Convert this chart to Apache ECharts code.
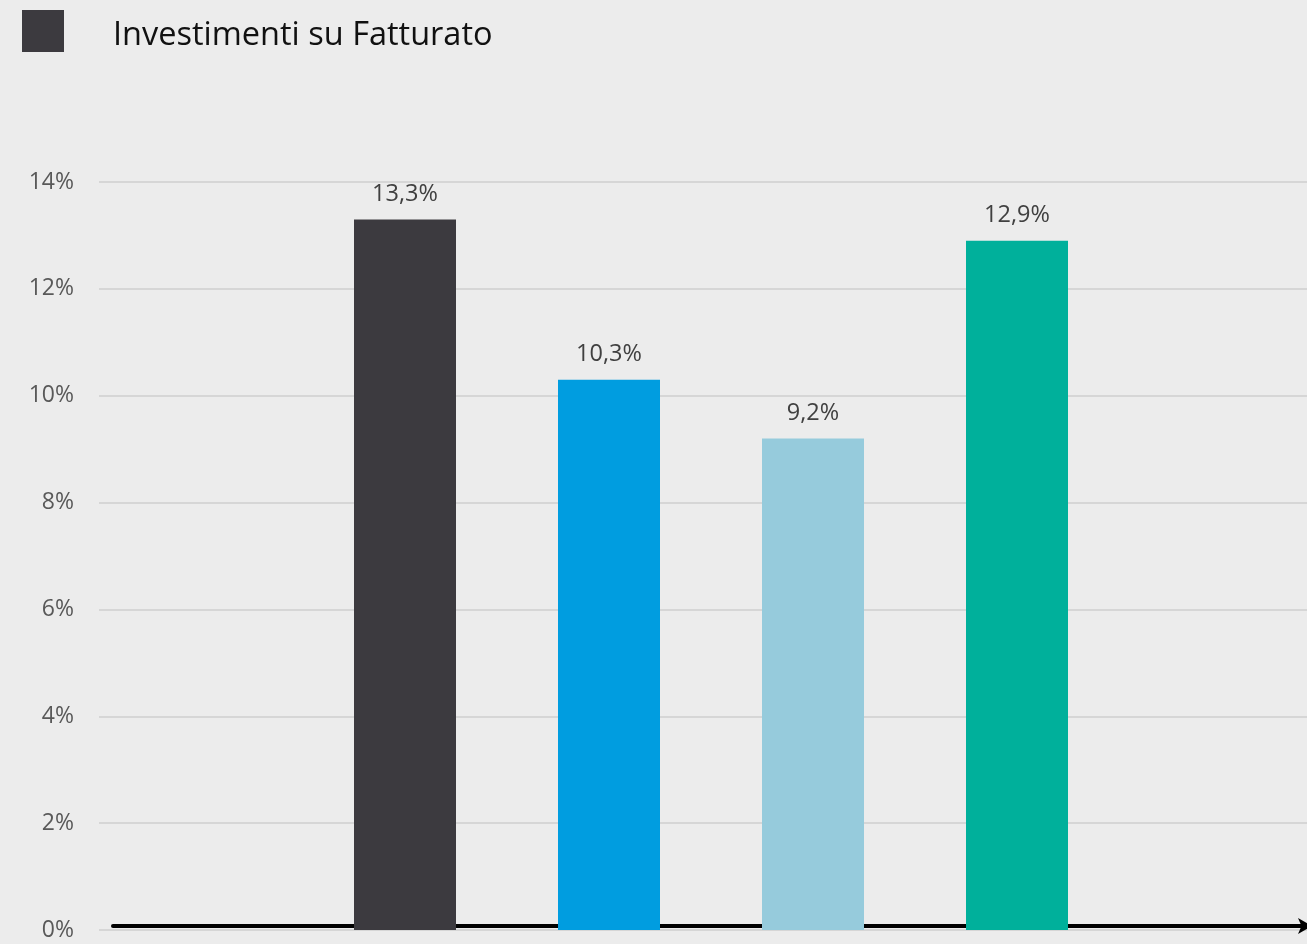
<!DOCTYPE html>
<html>
<head>
<meta charset="utf-8">
<script src="https://cdn.jsdelivr.net/npm/echarts@6/dist/echarts.min.js"></script>
<style>
html,body{margin:0;padding:0;background:#ececec;overflow:hidden;}
#c{width:1323px;height:944px;}
</style>
</head>
<body>
<div id="c"></div>
<script>
const seriesName = 'Investimenti su Fatturato';
const categories = ['', 'Voce 1', 'Voce 2', 'Voce 3', 'Voce 4', ' '];
const values = [null, 13.3, 10.3, 9.2, 12.9, null];
const barColors = ['#3c3a3f', '#3c3a3f', '#009de0', '#96cbdc', '#00b09b', '#3c3a3f'];
const yTicks = [0, 2, 4, 6, 8, 10, 12, 14];

const font = 'Open Sans, Noto Sans, sans-serif';
const chart = echarts.init(document.getElementById('c'));
chart.setOption({
  backgroundColor: '#ececec',
  animation: false,
  legend: {
    left: 22, top: 10, padding: 0,
    itemWidth: 42, itemHeight: 42,
    icon: 'rect',
    formatter: '{t|{name}}',
    textStyle: {
      fontFamily: font, fontSize: 32.5, color: '#111', padding: [0, 0, 0, 44],
      rich: { t: { fontFamily: font, fontSize: 32.5, color: '#111', padding: [10, 0, 0, 0] } }
    },
    data: [seriesName]
  },
  grid: [
    { left: 99, right: 0, top: 182, bottom: 14 },
    { left: 113, right: 11, top: 182, bottom: 18 }
  ],
  xAxis: [
    { type: 'category', data: categories, gridIndex: 0,
      axisLine: { show: false }, axisTick: { show: false }, axisLabel: { show: false } },
    { type: 'category', data: categories, gridIndex: 1,
      axisLine: { show: true, symbol: ['none', 'arrow'], symbolSize: [12, 14],
        lineStyle: { color: '#000', width: 4 } },
      axisTick: { show: false }, axisLabel: { show: false } }
  ],
  yAxis: [
    { type: 'value', gridIndex: 0, min: yTicks[0], max: yTicks[yTicks.length - 1], interval: 2,
      axisLine: { show: false }, axisTick: { show: false },
      axisLabel: { formatter: '{value}%', fontFamily: font, fontSize: 23, color: '#595959', margin: 25 },
      splitLine: { lineStyle: { color: '#d6d6d6', width: 2 } } },
    { type: 'value', gridIndex: 1, show: false, min: 0, max: 14 }
  ],
  series: [{
    name: seriesName,
    type: 'bar',
    xAxisIndex: 0, yAxisIndex: 0,
    barWidth: '50%',
    itemStyle: { color: barColors[1] },
    data: values.map((v, i) => ({ value: v, itemStyle: { color: barColors[i] } })),
    label: {
      show: true, position: 'top', distance: 13,
      fontFamily: font, fontSize: 23.5, color: '#404040',
      formatter: p => p.value == null ? '' : p.value.toFixed(1).replace('.', ',') + '%'
    }
  }]
});
</script>
</body>
</html>
